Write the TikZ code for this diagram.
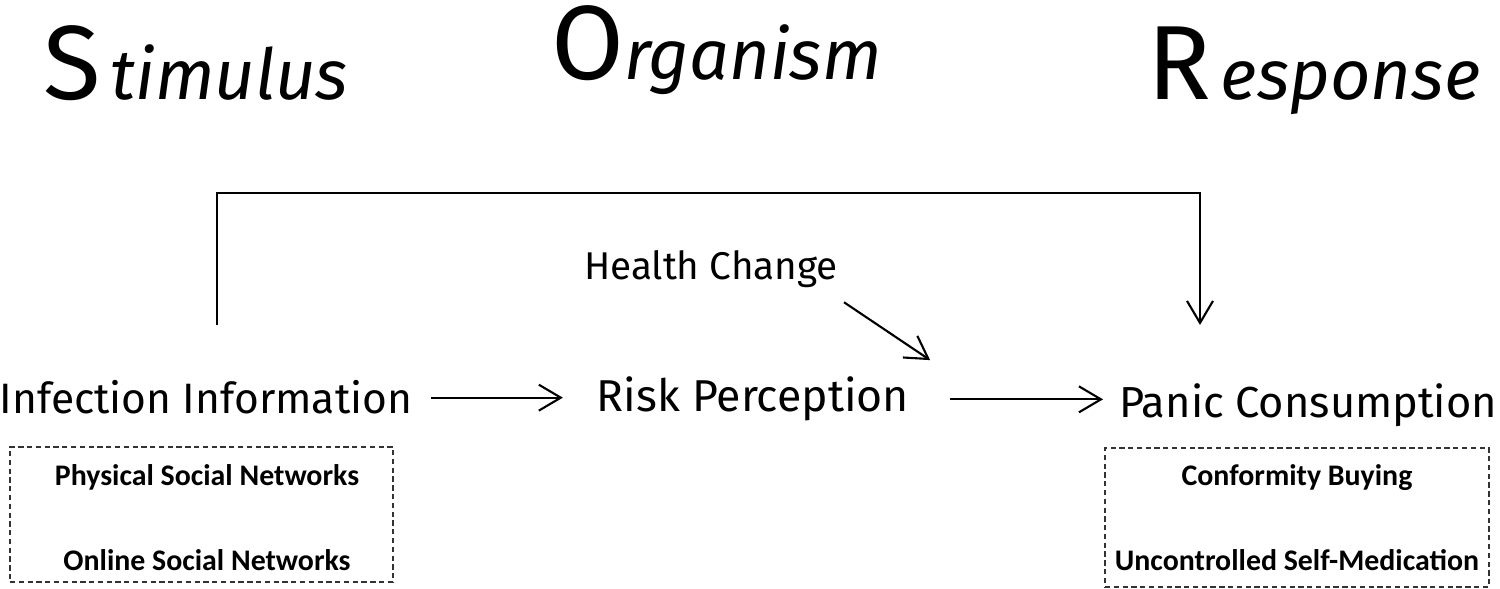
\documentclass[tikz,border=0pt]{standalone}
\usepackage{fontspec}
\setmainfont{Fira Sans}
\newfontfamily\boxfont{Carlito}
\usetikzlibrary{arrows.meta,calc,positioning}

\begin{document}
\begin{tikzpicture}[
    >={Straight Barb[length=2.2mm,width=2.6mm]},
    every path/.style={line width=0.6pt},
    title/.style={anchor=base west,inner sep=0pt,font=\fontsize{20}{24}\selectfont},
    label/.style={anchor=base,inner sep=0pt,font=\fontsize{12.1}{15}\selectfont},
    sublabel/.style={anchor=base,inner sep=0pt,font=\boxfont\bfseries\fontsize{8.5}{11}\selectfont},
    dashbox/.style={draw=black!80,dashed,line width=0.4pt,dash pattern=on 1.5pt off 1pt}]
  \useasboundingbox (0,0) rectangle (15,5.89);
  % S-O-R headings
  \node[title] (stim) at (0.42,4.89) {{\fontsize{30}{34}\selectfont S}\kern0.1cm\itshape timulus};
  \node[title] (org) at (5.50,5.09) {{\fontsize{30}{34}\selectfont O}\itshape rganism};
  \node[title] (resp) at (11.46,4.89) {{\fontsize{30}{34}\selectfont R}\kern0.1cm\itshape esponse};
  % main constructs
  \node[label] (info) at (2.06,1.75) {Infection Information};
  \node[label,font=\fontsize{12.7}{15}\selectfont] (risk) at (7.53,1.77) {Risk Perception};
  \node[label,font=\fontsize{12.35}{15}\selectfont] (panic) at (13.08,1.71) {Panic Consumption};
  \node[label,font=\fontsize{11}{13}\selectfont] (health) at (7.11,3.09) {Health Change};
  % dimensions
  \node[dashbox,minimum width=3.83cm,minimum height=1.35cm] (netbox) at (2.015,0.745) {};
  \node[sublabel] (phys) at (2.07,1.03) {Physical Social Networks};
  \node[sublabel] (online) at (2.07,0.18) {Online Social Networks};
  \node[dashbox,minimum width=3.84cm,minimum height=1.39cm] (buybox) at (12.97,0.715) {};
  \node[sublabel] (conf) at (12.97,1.03) {Conformity Buying};
  \node[sublabel] (selfmed) at (12.97,0.18) {Uncontrolled Self-Medication};
  % paths
  \draw[->] ([xshift=0.18cm]info.east) -- ([xshift=-0.33cm]info.east -| risk.west);
  \draw[->] ([xshift=0.40cm]risk.east) -- ([xshift=-0.15cm]risk.east -| panic.west);
  \draw[->] ([shift={(0.05,-0.13)}]health.south east) -- ([shift={(0.20,0.16)}]risk.north east);
  \coordinate (loopS) at (2.17,2.64);
  \coordinate (loopE) at (12.00,2.64);
  \draw[->] (loopS) -- ++(0,1.32) -| (loopE);
\end{tikzpicture}
\end{document}
